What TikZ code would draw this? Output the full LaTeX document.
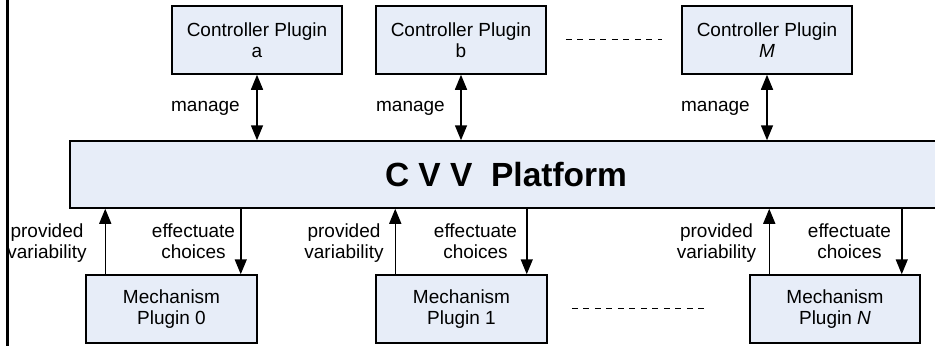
\documentclass[tikz,border=0pt]{standalone}
\usepackage{fontspec}
\setmainfont{Liberation Sans}
\usetikzlibrary{arrows.meta,calc}
\definecolor{boxfill}{RGB}{231,237,248}
\begin{document}
\begin{tikzpicture}[x=1pt,y=-1pt,
  box/.style={draw=black, line width=1.5pt, fill=boxfill, minimum width=170pt, minimum height=68pt,
    inner sep=0pt, align=center, font=\fontsize{19}{21.5}\selectfont},
  lbl/.style={inner sep=0pt, align=center, font=\fontsize{19}{21}\selectfont},
  arr/.style={line width=1.5pt, -{Triangle[length=15pt,width=12pt]}},
  darr/.style={line width=1.5pt, {Triangle[length=15pt,width=12pt]}-{Triangle[length=15pt,width=12pt]}},
  dots/.style={line width=1pt, dash pattern=on 6pt off 5.5pt}]
\useasboundingbox (0,0) rectangle (935,346);
\clip (0,0) rectangle (935,346);

% boxes
\node[box] (ca) at (257,40) {Controller Plugin\\a};
\node[box] (cb) at (461,40) {Controller Plugin\\b};
\node[box] (cm) at (767,40) {Controller Plugin\\\textit{M}};
\node[box, minimum width=872pt, minimum height=67pt, font=\bfseries\fontsize{33.5}{36}\selectfont] (cvv) at (506,174.5) {C V V~~Platform};
\node[box, minimum width=171pt] (m0) at (171.5,309) {Mechanism\\Plugin 0};
\node[box, minimum width=171pt] (m1) at (461.5,309) {Mechanism\\Plugin 1};
\node[box] (mN) at (835,309) {Mechanism\\Plugin \textit{N}};

% manage arrows
\foreach \n in {ca,cb,cm} \draw[darr] (\n.south) -- (\n.south |- cvv.north);

% provided variability arrows
\draw[arr] ([xshift=20pt]m0.north west) -- ([xshift=20pt]m0.north west |- cvv.south);
\draw[arr] ([xshift=20pt]m1.north west) -- ([xshift=20pt]m1.north west |- cvv.south);
\draw[arr] ([xshift=20pt]mN.north west) -- ([xshift=20pt]mN.north west |- cvv.south);

% effectuate choices arrows
\draw[arr] ([xshift=-17pt]m0.north east |- cvv.south) -- ([xshift=-17pt]m0.north east);
\draw[arr] ([xshift=-21pt]m1.north east |- cvv.south) -- ([xshift=-21pt]m1.north east);
\draw[arr] ([xshift=-19pt]mN.north east |- cvv.south) -- ([xshift=-19pt]mN.north east);

% labels
\node[lbl, anchor=base east] (lma) at (240,111) {manage};
\node[lbl, anchor=base east] (lmb) at (445,111) {manage};
\node[lbl, anchor=base east] (lmm) at (750,111) {manage};

\node[lbl] (lp0) at (47,243.5) {provided\\variability};
\node[lbl] (lp1) at (344,243.5) {provided\\variability};
\node[lbl] (lpN) at (716.5,243.5) {provided\\variability};

\node[lbl] (le0) at (193.5,241.5) {effectuate\\choices};
\node[lbl] (le1) at (475.5,241.5) {effectuate\\choices};
\node[lbl] (leN) at (849.5,241.5) {effectuate\\choices};

% dashed ellipsis lines
\draw[dots] ($(cb.east)+(19,-1)$) -- ($(cm.west)+(-19,-1)$);
\draw[dots] ($(m1.east)+(24,-1)$) -- ($(mN.west)+(-45,-1)$);

% left border line
\draw[line width=3pt] (7.5,0) -- (7.5,346);
\end{tikzpicture}
\end{document}
